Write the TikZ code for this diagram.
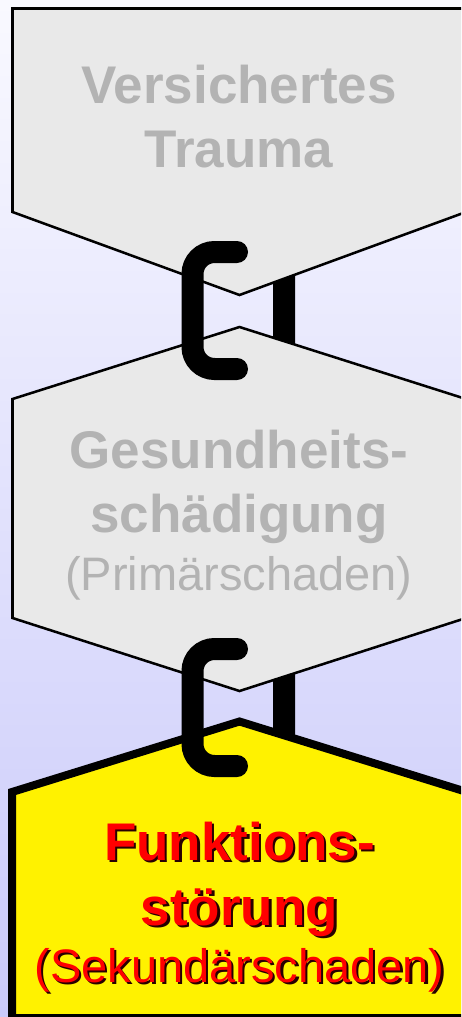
\documentclass[tikz,border=0pt]{standalone}
\usepackage{fontspec}
\setmainfont{Liberation Sans}
\definecolor{bgtop}{RGB}{249,249,255}
\definecolor{bgbot}{RGB}{202,202,250}
\definecolor{boxgrey}{RGB}{233,233,233}
\definecolor{txtgrey}{RGB}{179,179,179}
\definecolor{hotred}{RGB}{255,0,0}
\definecolor{shadowc}{RGB}{40,0,0}
\newcommand\shadowedtext[1]{\makebox[0pt][l]{\hspace{1.8pt}\raisebox{-1.9pt}{\textcolor{shadowc}{#1}}}#1}
\begin{document}
\begin{tikzpicture}[x=0.75pt,y=-0.75pt,
  greybox/.style={fill=boxgrey,draw=black,line width=1.9pt,line join=miter},
  hotbox/.style={fill=yellow,draw=black,line width=6pt,line join=miter},
  linkfront/.style={draw=black,line width=16.5pt,line cap=round,rounded corners=16.5pt},
  linkback/.style={draw=black,line width=16.5pt,rounded corners=16.5pt},
  bigtxt/.style={font=\fontsize{39.75}{48}\selectfont\bfseries,anchor=base,inner sep=0pt},
  paren/.style={font=\fontsize{35.25}{42}\selectfont,anchor=base,inner sep=0pt},
  greytxt/.style={text=txtgrey},
  redtxt/.style={text=hotred}
]
\useasboundingbox (0,0) rectangle (461,1017);
\clip (0,0) rectangle (461,1017);
\shade[top color=bgtop,bottom color=bgbot] (0,0) rectangle (461,1017);

% back halves of the chain links
\draw[linkback] (237,252) -- (284,252) -- (284,369) -- (237,369);
\draw[linkback] (237,649) -- (284,649) -- (284,766) -- (237,766);

% shapes
\draw[greybox] (12.5,8.5) -- (466,8.5) -- (466,212) -- (239.5,295) -- (12.5,212) -- cycle;
\draw[greybox] (239.5,327) -- (466,399) -- (466,618) -- (239.5,691) -- (12.5,618) -- (12.5,399) -- cycle;
\draw[hotbox] (239.5,721.5) -- (467,792) -- (467,1018) -- (12,1018) -- (12,792) -- cycle;

% texts
\node[bigtxt,greytxt] (t1a) at (239,103) {Versichertes};
\node[bigtxt,greytxt] (t1b) at (239,167) {Trauma};

\node[bigtxt,greytxt] (t2a) at (239,468) {Gesundheits-};
\node[bigtxt,greytxt] (t2b) at (239,532) {schädigung};
\node[paren,greytxt] (t2c) at (239,590) {(Primärschaden)};

\node[bigtxt,redtxt] (t3a) at (239.5,860) {\shadowedtext{Funktions-}};
\node[bigtxt,redtxt] (t3b) at (239.5,925) {\shadowedtext{störung}};
\node[paren,redtxt] (t3c) at (239.5,982) {\shadowedtext{(Sekundärschaden)}};

% front halves of the chain links
\draw[linkfront] (237,252) -- (192.5,252) -- (192.5,369) -- (237,369);
\draw[linkfront] (237,649) -- (192.5,649) -- (192.5,766) -- (237,766);
\end{tikzpicture}
\end{document}
